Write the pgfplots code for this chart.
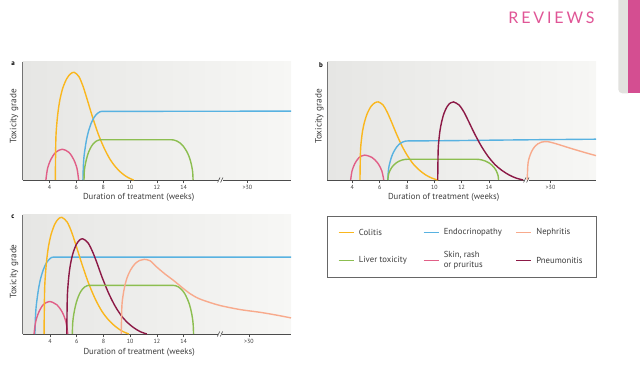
\documentclass[border=0pt]{standalone}
\usepackage{fontspec}
\setmainfont{PT Sans}
\newfontfamily\revfont[LetterSpace=18]{Lato}
\usepackage{pgfplots}
\pgfplotsset{compat=1.18}
\definecolor{colitis}{RGB}{250,183,30}
\definecolor{endo}{RGB}{88,178,225}
\definecolor{nephritis}{RGB}{248,170,140}
\definecolor{liver}{RGB}{140,190,80}
\definecolor{skin}{RGB}{225,95,135}
\definecolor{pneumo}{RGB}{140,25,70}
\definecolor{bgL}{RGB}{230,230,228}
\definecolor{bgR}{RGB}{247,247,245}
\definecolor{txt}{RGB}{60,60,60}
\definecolor{revpink}{RGB}{224,85,150}
\definecolor{barpink}{RGB}{212,78,145}
\definecolor{bargray}{RGB}{226,226,223}
\newcommand{\lgd}[2]{\hbox{\hspace{4.5pt}\parbox[c][22pt][c]{#1}{\raggedright #2}}}
\pgfplotsset{
  panel/.style={
    scale only axis, width=268.3pt, height=118.3pt, anchor=south west,
    ymin=0, ymax=100,
    axis x line*=bottom, axis y line*=left,
    x axis line style={draw=none},
    y axis line style={-, draw=black!55, line width=0.6pt},
    ytick=\empty,
    tick align=outside, major tick length=3.5pt,
    x tick style={black!70, line width=0.6pt},
    xticklabel style={font=\fontsize{6}{7}\selectfont, text=txt, yshift=2pt},
    /pgf/number format/assume math mode=true,
    axis background/.style={left color=bgL, right color=bgR},
    xlabel style={font=\fontsize{8.7}{10}\selectfont, text=txt},
    ylabel style={font=\fontsize{9.2}{10}\selectfont, text=txt},
    xlabel={Duration of treatment (weeks)},
    ylabel={Toxicity grade},
    clip=false,
  },
  crv/.style={smooth, tension=0.5, line width=1.4pt, forget plot},
}
\newcommand{\brokenbase}{%
  \draw[black!70, line width=0.7pt] (rel axis cs:0,0) -- (axis cs:16.55,0);
  \draw[black!70, line width=0.7pt] (axis cs:16.9,0) -- (rel axis cs:1,0);
  \draw[black!70, line width=0.6pt] ([xshift=-1.2pt,yshift=-2.5pt]axis cs:16.62,0) -- ([xshift=1.2pt,yshift=2.5pt]axis cs:16.62,0);
  \draw[black!70, line width=0.6pt] ([xshift=-1.2pt,yshift=-2.5pt]axis cs:16.84,0) -- ([xshift=1.2pt,yshift=2.5pt]axis cs:16.84,0);
}
\begin{document}
\begin{tikzpicture}[x=1pt,y=1pt]
\path[use as bounding box] (0pt,0pt) rectangle (640pt,366pt);
% page decorations
\fill[bargray, rounded corners=4pt] (618.3pt,380pt) rectangle (632pt,272.7pt);
\fill[barpink] (628.3pt,380pt) rectangle (640pt,272.7pt);
\node[text=revpink, font=\revfont\fontsize{16}{16}\selectfont, anchor=center] at (551.5pt,348.7pt) {REVIEWS};
\node[font=\bfseries\fontsize{7}{8}\selectfont, text=black] at (13pt,302pt) {a};
\node[font=\bfseries\fontsize{7}{8}\selectfont, text=black] at (321pt,301pt) {b};
\node[font=\bfseries\fontsize{7}{8}\selectfont, text=black] at (13pt,149.5pt) {c};

% ---------------- panel a
\begin{axis}[panel, at={(22.7pt,186pt)}, xmin=2, xmax=22,
  xtick={4,6,8,10,12,14,18.75}, xticklabels={4,6,8,10,12,14,{>30}},
  xlabel style={at={(axis description cs:0.432,-0.148)}, anchor=center},
  ylabel style={at={(axis description cs:-0.0324,0.537)}, anchor=center}]
\brokenbase
\addplot[crv, skin] coordinates {(3.73,0) (3.85,9.6) (4.10,17.4) (4.46,23.4) (4.95,26) (5.44,23.4) (5.80,17.4) (6.05,9.6) (6.17,0)};
\addplot[crv, colitis] coordinates {(4.43,0) (4.47,33.9) (4.54,47.2) (4.64,58.1) (4.78,68.2) (4.99,77.8) (5.28,85.6) (5.56,89.7) (5.84,91)
 (6.19,87.4) (6.50,79.1) (6.81,68.0) (7.17,54.5) (7.61,39.5) (8.06,27.2) (8.50,17.7) (8.94,10.8) (9.38,5.8) (9.83,2.2) (10.27,0)};
\addplot[crv, endo] coordinates {(6.49,0) (6.52,11.5) (6.57,19.8) (6.66,27.4) (6.77,34.8) (6.91,41.4) (7.12,48.4) (7.34,53.2) (7.55,56.1) (7.76,57.7) (7.90,58)
 (8.1,58) (8.4,58) (8.9,58) (9.8,58) (11.5,58.05) (14.5,58.1) (18,58.15) (22,58.2)};
\addplot[crv, liver] coordinates {(6.57,0) (6.59,6.8) (6.64,11.6) (6.72,16.0) (6.82,20.4) (6.94,24.3) (7.12,28.4) (7.31,31.2) (7.49,32.9) (7.68,33.8) (7.80,34)
 (8.0,34) (8.3,34) (8.8,34) (9.7,34) (11.2,34) (12.1,34) (12.6,34) (12.9,34) (13.1,34)
 (13.26,33.8) (13.50,32.9) (13.74,31.2) (13.98,28.4) (14.22,24.3) (14.38,20.4) (14.51,16.0) (14.60,11.6) (14.67,6.8) (14.70,0)};
\end{axis}

% ---------------- panel b
\begin{axis}[panel, at={(327.3pt,186pt)}, width=268.7pt, xmin=2.17, xmax=21.83,
  xtick={4,6,8,10,12,14,18.5}, xticklabels={4,6,8,10,12,14,{>30}},
  xlabel style={at={(axis description cs:0.433,-0.147)}, anchor=center},
  ylabel style={at={(axis description cs:-0.03,0.537)}, anchor=center}]
\brokenbase
\addplot[crv, skin] coordinates {(3.88,0) (3.98,7.7) (4.19,14.0) (4.49,18.9) (4.90,21) (5.46,18.9) (5.88,14.0) (6.16,7.7) (6.30,0)};
\addplot[crv, colitis] coordinates {(4.56,0) (4.60,24.6) (4.67,34.3) (4.76,42.1) (4.90,49.4) (5.10,56.4) (5.36,62.1) (5.63,65.1) (5.90,66)
 (6.25,63.4) (6.55,57.4) (6.86,49.3) (7.21,39.5) (7.64,28.6) (8.08,19.7) (8.51,12.8) (8.95,7.9) (9.38,4.2) (9.82,1.6) (10.25,0)};
\addplot[crv, endo] coordinates {(6.60,0) (6.63,6.6) (6.68,11.3) (6.77,15.6) (6.88,19.8) (7.02,23.6) (7.23,27.6) (7.44,30.3) (7.65,31.9) (7.86,32.8) (8.00,33)
 (8.2,33.02) (8.5,33.05) (9.0,33.1) (9.9,33.15) (11.5,33.3) (14.5,33.7) (18,34.1) (21.83,34.5)};
\addplot[crv, liver] coordinates {(6.60,0) (6.63,3.5) (6.68,6.0) (6.77,8.3) (6.88,10.5) (7.02,12.5) (7.23,14.6) (7.44,16.0) (7.65,16.9) (7.86,17.4) (8.00,17.5)
 (8.2,17.5) (8.5,17.5) (9.0,17.5) (9.9,17.5) (11.3,17.5) (12.2,17.5) (12.7,17.5) (12.95,17.5) (13.1,17.5)
 (13.26,17.4) (13.50,16.9) (13.74,16.0) (13.98,14.6) (14.22,12.5) (14.38,10.5) (14.51,8.3) (14.60,6.0) (14.67,3.5) (14.70,0)};
\addplot[crv, pneumo] coordinates {(10.25,0) (10.28,24.6) (10.34,34.3) (10.42,42.1) (10.54,49.4) (10.71,56.4) (10.94,62.1) (11.17,65.1) (11.40,66)
 (11.81,63.4) (12.17,57.4) (12.52,49.3) (12.93,39.5) (13.44,28.6) (13.95,19.7) (14.46,12.8) (14.97,7.9) (15.48,4.2) (15.99,1.6) (16.50,0)};
\addplot[crv, nephritis] coordinates {(16.80,0) (16.84,12.1) (16.90,16.9) (17.00,20.7) (17.13,24.3) (17.32,27.8) (17.58,30.6) (17.84,32.0) (18.10,32.5)
 (18.4,32.2) (18.8,31.0) (19.2,29.6) (19.8,27.4) (20.4,25.3) (21.2,22.6) (21.83,20.6)};
\end{axis}

% ---------------- panel c
\begin{axis}[panel, at={(22.7pt,32pt)}, height=119pt, xmin=1.95, xmax=22.05,
  xtick={4,6,8,10,12,14,18.9}, xticklabels={4,6,8,10,12,14,{>30}},
  xlabel style={at={(axis description cs:0.434,-0.157)}, anchor=center},
  ylabel style={at={(axis description cs:-0.0324,0.524)}, anchor=center},
  legend columns=3,
  legend cell align=left,
  legend image code/.code={\draw[#1] (0pt,0pt) -- (15pt,0pt);},
  legend style={at={(1.1357,0.994)}, anchor=north west, draw=black!60, line width=0.8pt,
    inner xsep=10pt, inner ysep=5.5pt, fill=white,
    font=\fontsize{8.7}{10}\selectfont, text=txt,
    nodes={inner sep=0pt, outer sep=0pt, text depth=}, column sep=0pt, row sep=6pt}]
\addlegendimage{line width=1.6pt, draw=colitis}\addlegendentry{\lgd{63.8pt}{Colitis}}
\addlegendimage{line width=1.6pt, draw=endo}\addlegendentry{\lgd{71.5pt}{Endocrinopathy}}
\addlegendimage{line width=1.6pt, draw=nephritis}\addlegendentry{\lgd{49.7pt}{Nephritis}}
\addlegendimage{line width=1.6pt, draw=liver}\addlegendentry{\lgd{63.8pt}{Liver toxicity}}
\addlegendimage{line width=1.6pt, draw=skin}\addlegendentry{\lgd{71.5pt}{Skin, rash\\or pruritus}}
\addlegendimage{line width=1.6pt, draw=pneumo}\addlegendentry{\lgd{49.7pt}{Pneumonitis}}
\brokenbase
\addplot[crv, endo] coordinates {(2.87,0) (2.90,12.9) (2.95,22.0) (3.04,30.5) (3.15,38.8) (3.28,46.1) (3.49,53.9) (3.70,59.2) (3.91,62.5) (4.11,64.3) (4.25,64.6)
 (4.45,64.6) (4.75,64.6) (5.3,64.6) (6.3,64.6) (8.3,64.6) (12,64.6) (17,64.6) (22.05,64.6)};
\addplot[crv, skin] coordinates {(2.80,0) (2.92,10.1) (3.15,18.2) (3.49,24.6) (3.95,27.3) (4.50,24.6) (4.92,18.2) (5.19,10.1) (5.33,0)};
\addplot[crv, colitis] coordinates {(3.55,0) (3.59,36.5) (3.66,50.9) (3.75,62.5) (3.88,73.4) (4.08,83.8) (4.35,92.2) (4.61,96.6) (4.88,98)
 (5.28,94.1) (5.63,85.2) (5.98,73.2) (6.39,58.7) (6.89,42.5) (7.39,29.3) (7.89,19.0) (8.39,11.7) (8.90,6.3) (9.40,2.4) (9.90,0)};
\addplot[crv, pneumo] coordinates {(5.25,0) (5.29,29.8) (5.35,41.5) (5.43,51.0) (5.55,59.9) (5.73,68.4) (5.97,75.3) (6.21,78.9) (6.45,80)
 (6.83,76.8) (7.17,69.5) (7.51,59.8) (7.89,47.9) (8.37,34.7) (8.85,23.9) (9.33,15.5) (9.81,9.5) (10.29,5.1) (10.77,1.9) (11.25,0)};
\addplot[crv, liver] coordinates {(5.67,0) (5.69,8.1) (5.74,13.9) (5.82,19.3) (5.92,24.5) (6.04,29.1) (6.22,34.1) (6.41,37.4) (6.59,39.5) (6.78,40.6) (6.90,40.8)
 (7.1,40.8) (7.4,40.8) (7.9,40.8) (8.8,40.8) (10.5,40.8) (11.6,40.8) (12.3,40.8) (12.8,40.8) (13.07,40.8) (13.25,40.8)
 (13.40,40.6) (13.63,39.5) (13.85,37.4) (14.08,34.1) (14.30,29.1) (14.45,24.5) (14.57,19.3) (14.66,13.9) (14.72,8.1) (14.75,0)};
\addplot[crv, nephritis] coordinates {(9.33,0) (9.38,23.3) (9.47,32.5) (9.59,40.0) (9.76,47.0) (10.02,53.6) (10.36,59.0) (10.71,61.8) (11.05,62.7)
 (11.5,61.5) (12.0,56.2) (12.6,50.5) (13.25,45) (13.9,39) (14.5,33.8) (15.1,30.0) (15.75,27.3) (16.75,23.9) (18.25,20.5) (19.75,18.2) (21.0,15.8) (22.05,13.5)};
\end{axis}
\end{tikzpicture}
\end{document}
